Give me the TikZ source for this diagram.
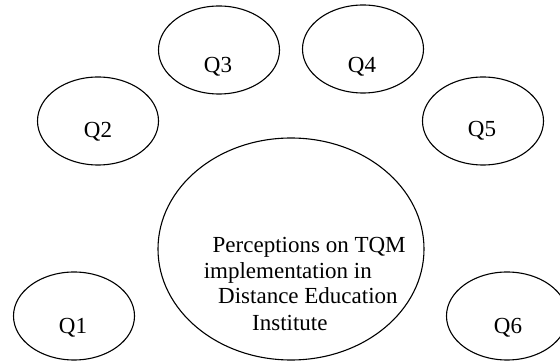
\documentclass[tikz,border=0pt]{standalone}
\usepackage{fontspec}
\setmainfont{Liberation Serif}
\usetikzlibrary{shapes.geometric}
\begin{document}
\begin{tikzpicture}[x=1pt,y=-1pt,
  bubble/.style={draw, ellipse, line width=1.1pt, inner sep=0pt},
  qbubble/.style={bubble, minimum width=121pt, minimum height=88pt},
  txt/.style={inner sep=0pt, font=\fontsize{23}{26}\selectfont},
  line/.style={txt, anchor=base west}]
  \useasboundingbox (0,0) rectangle (560,363);
  \clip (0,0) rectangle (560,363);

  % surrounding question bubbles
  \node[qbubble] (q1) at (74,316) {};
  \node[qbubble] (q2) at (98,121) {};
  \node[qbubble] (q3) at (219,50) {};
  \node[qbubble] (q4) at (363,49) {};
  \node[qbubble] (q5) at (483,121) {};
  \node[qbubble] (q6) at (507,316) {};

  \node[txt] (l1) at (73,328) {Q1};
  \node[txt] (l2) at (98,132) {Q2};
  \node[txt] (l3) at (218,67) {Q3};
  \node[txt] (l4) at (362,67) {Q4};
  \node[txt] (l5) at (482,131) {Q5};
  \node[txt] (l6) at (508,328) {Q6};

  % central bubble
  \node[bubble, minimum width=266pt, minimum height=222pt] (core) at (291,249) {};
  \node[line] (c1) at (212.5,253) {Perceptions on TQM};
  \node[line] (c2) at (203.6,279) {implementation in};
  \node[line] (c3) at (218,304) {Distance Education};
  \node[line] (c4) at (252,331) {Institute};
\end{tikzpicture}
\end{document}
